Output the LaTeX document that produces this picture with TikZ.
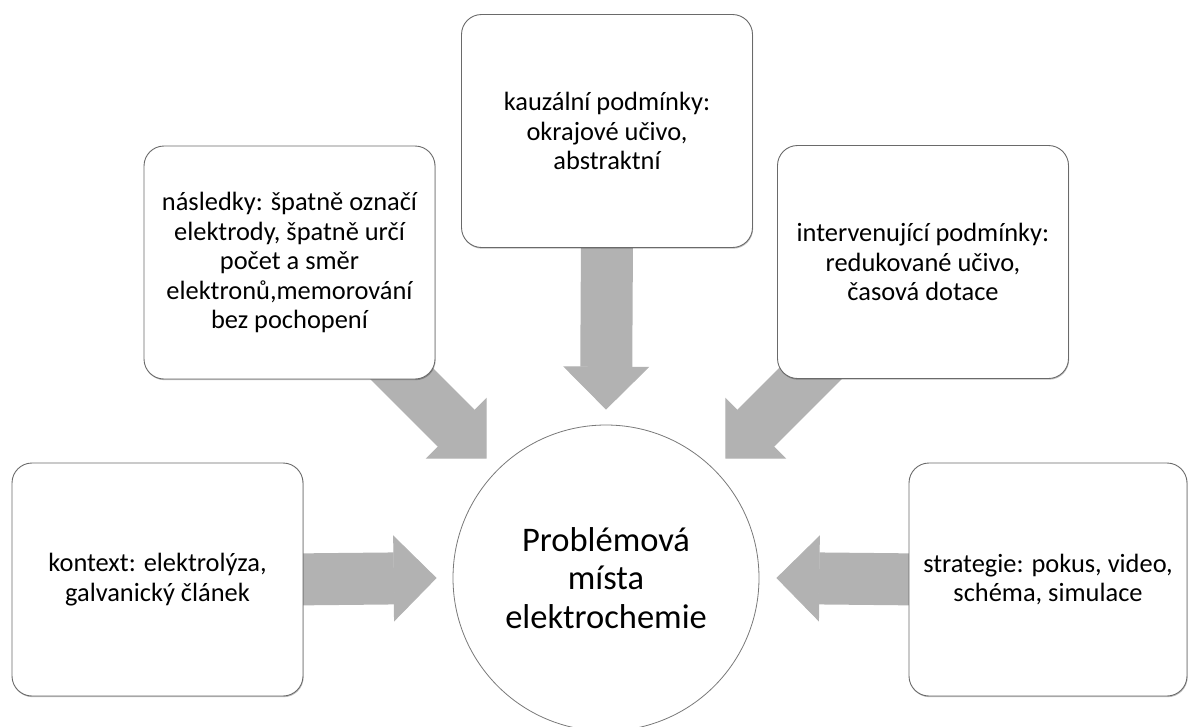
\documentclass[tikz,border=0pt]{standalone}
\usepackage{fontspec}
\setmainfont{Carlito}
\usetikzlibrary{arrows.meta,calc,backgrounds,shadows}
\definecolor{arrowgray}{HTML}{B2B2B2}
\definecolor{edgegray}{HTML}{6A6A6A}
\begin{document}
\begin{tikzpicture}[x=1pt,y=-1pt,
  box/.style={draw=edgegray, line width=0.9pt, fill=white, rounded corners=20pt,
    minimum width=291pt, minimum height=233pt, align=center, inner sep=0pt,
    font=\fontsize{26.4}{29.5}\selectfont,
    drop shadow={shadow xshift=0.6pt, shadow yshift=-1.2pt, fill=black, opacity=0.25}},
  hub/.style={circle, draw=edgegray!90, line width=0.8pt, fill=white,
    minimum size=306pt, inner sep=0pt, align=center,
    font=\fontsize{34.5}{38.5}\selectfont},
  fatarrow/.style={draw=arrowgray, fill=arrowgray, line width=52pt,
    -{Triangle[width=86pt,length=43pt,line width=1pt]}}]
\useasboundingbox (0,0) rectangle (1189,726);

\node[hub] (c) at (606,578) {Problémová\\místa\\elektrochemie};

\node[box] (ctx) at (157.5,579.5) {kontext: elektrolýza,\\galvanický článek};
\node[box] (nas) at (289.5,262.5) {následky: špatně označí\\elektrody, špatně určí\\počet a směr\\elektronů,memorování\\bez pochopení};
\node[box] (kau) at (607,131) {kauzální podmínky:\\okrajové učivo,\\abstraktní};
\node[box] (int) at (923,262) {intervenující podmínky:\\redukované učivo,\\časová dotace};
\node[box, minimum width=278pt] (str) at (1048,579.5) {strategie: pokus, video,\\schéma, simulace};

\begin{pgfonlayer}{background}
  \draw[fatarrow] ([xshift=-15pt]ctx.east) -- ($(c.west)!-16pt!(c)$);
  \draw[fatarrow] ([xshift=15pt]str.west) -- ($(c.east)!-17pt!(c)$);
  \draw[fatarrow] ([yshift=10pt]kau.south) -- ($(c.north)!-15pt!(c)$);
  \draw[fatarrow] ($(c.135)!-167pt!(c)$) -- ($(c.135)!-15.5pt!(c)$);
  \draw[fatarrow] ($(c.45)!-167pt!(c)$) -- ($(c.45)!-15.5pt!(c)$);
\end{pgfonlayer}
\end{tikzpicture}
\end{document}
